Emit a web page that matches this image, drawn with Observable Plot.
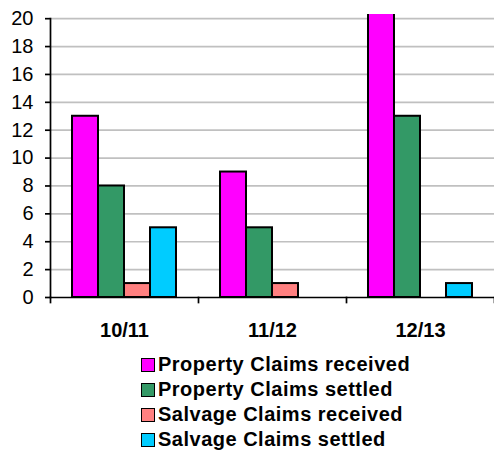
<!DOCTYPE html>
<html>
<head>
<meta charset="utf-8">
<script src="https://cdn.jsdelivr.net/npm/d3@7"></script>
<script src="https://cdn.jsdelivr.net/npm/@observablehq/plot@0.6"></script>
<style>
  html, body { margin: 0; padding: 0; background: white; }
  #wrap { position: relative; width: 494px; height: 452px; font-family: Arial, "Liberation Sans", sans-serif; }
  #legend { position: absolute; left: 141px; top: 352px; }
  .row { display: flex; align-items: center; height: 25px; }
  .sw { width: 12px; height: 12px; border: 1.5px solid #000; margin-right: 3px; }
  .lab { font-size: 20px; font-weight: bold; letter-spacing: 0.5px; color: #000; line-height: 25px; }
</style>
</head>
<body>
<div id="wrap"><div id="chart"></div><div id="legend"></div></div>
<script>
const periods = ["10/11", "11/12", "12/13"];
const seriesNames = ["Property Claims received", "Property Claims settled", "Salvage Claims received", "Salvage Claims settled"];
const seriesColors = ["#FF00FF", "#339966", "#FF8080", "#00CCFF"];
const propertyReceived = [13, 9, 22];
const propertySettled = [8, 5, 13];
const salvageReceived = [1, 1, 0];
const salvageSettled = [5, 0, 1];
const yTicks = [0, 2, 4, 6, 8, 10, 12, 14, 16, 18, 20];

const seriesValues = [propertyReceived, propertySettled, salvageReceived, salvageSettled];
const data = [];
periods.forEach((p, i) => {
  seriesNames.forEach((s, j) => {
    const v = seriesValues[j][i];
    if (v > 0) data.push({period: p, series: s, value: v});
  });
});

const chart = Plot.plot({
  width: 494,
  height: 340,
  marginTop: 14,
  marginBottom: 43,
  marginLeft: 50,
  marginRight: 0,
  style: {fontFamily: "Arial, 'Liberation Sans', sans-serif", background: "white", color: "black"},
  fx: {domain: periods, paddingInner: 0, paddingOuter: 0, label: null, axis: null},
  x: {domain: seriesNames, paddingInner: 0, paddingOuter: 0.8, axis: null},
  y: {domain: [0, 20.3], axis: null},
  color: {domain: seriesNames, range: seriesColors},
  marks: [
    Plot.gridY(yTicks.filter(d => d > 0), {stroke: "#c0c0c0", strokeOpacity: 1, strokeWidth: 1.7}),
    Plot.barY(data, {fx: "period", x: "series", y: "value", fill: "series", stroke: "black", strokeWidth: 2, clip: true}),
    Plot.ruleY([0], {stroke: "black", strokeWidth: 1.7}),
    Plot.axisY({ticks: yTicks, tickSize: 5, tickPadding: 12, fontSize: 20, label: null, stroke: "black", strokeWidth: 1.7}),
    Plot.axisFx({anchor: "bottom", tickSize: 0, tickPadding: 25, fontSize: 20, fontWeight: "bold", label: null}),
    Plot.frame({anchor: "left", facetAnchor: "left", insetTop: 4, stroke: "black", strokeWidth: 1.7}),
    Plot.frame({anchor: "left", insetTop: 283, insetBottom: -5, stroke: "black", strokeWidth: 1.7}),
    Plot.frame({anchor: "right", facetAnchor: "right", insetTop: 283, insetBottom: -5, stroke: "black", strokeWidth: 1.7})
  ]
});
document.getElementById("chart").appendChild(chart);

const colorScale = chart.scale("color");
const legend = document.getElementById("legend");
colorScale.domain.forEach((name, i) => {
  const row = document.createElement("div");
  row.className = "row";
  const sw = document.createElement("div");
  sw.className = "sw";
  sw.style.background = colorScale.range[i];
  const lab = document.createElement("div");
  lab.className = "lab";
  lab.textContent = name;
  row.appendChild(sw);
  row.appendChild(lab);
  legend.appendChild(row);
});
</script>
</body>
</html>
